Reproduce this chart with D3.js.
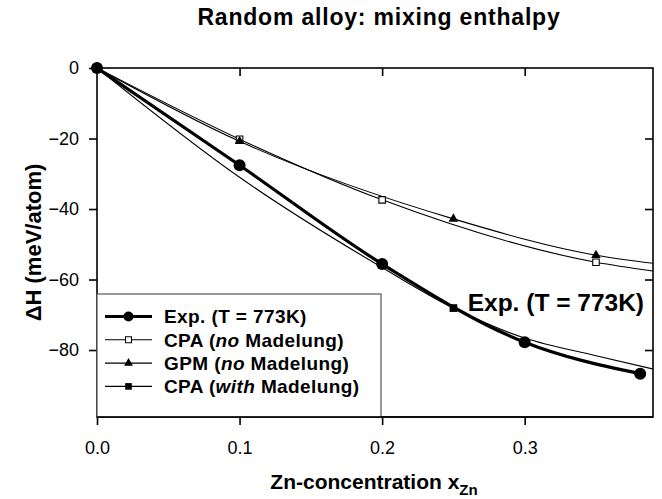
<!DOCTYPE html>
<html>
<head>
<meta charset="utf-8">
<script src="https://cdn.jsdelivr.net/npm/d3@7"></script>
<style>
  body { margin: 0; background: #fff; }
  svg { display: block; font-family: "Liberation Sans", Arial, Helvetica, sans-serif; }
  .axis path, .axis line { stroke: #000; stroke-width: 1.6; }
  .axis text { font-size: 18px; fill: #000; }
</style>
</head>
<body>
<svg id="chart" width="662" height="499"></svg>
<script>
// Zn concentration -> mixing enthalpy (meV/atom)
const expX = [0, 0.1, 0.2, 0.3, 0.381];
const expY = [0, -27.6, -55.6, -77.8, -86.7];

// CPA, no Madelung (open squares); curve runs on to the frame
const cpaNoX = [0, 0.1, 0.2, 0.35];
const cpaNoY = [0, -20.2, -37.4, -55.1];
const cpaNoCurveX = [0, 0.1, 0.2, 0.35, 0.39];
const cpaNoCurveY = [0, -20.2, -37.4, -55.1, -57.6];

// GPM, no Madelung (filled triangles)
const gpmX = [0, 0.1, 0.25, 0.35];
const gpmY = [0, -20.8, -42.8, -53.1];
const gpmCurveX = [0, 0.1, 0.25, 0.35, 0.39];
const gpmCurveY = [0, -20.8, -42.8, -53.1, -55.4];

// CPA with Madelung (filled square) and its curve
const cpaWithX = [0.25];
const cpaWithY = [-68.1];
const cpaWithCurveX = [0, 0.1, 0.2, 0.25, 0.3, 0.35, 0.39];
const cpaWithCurveY = [0, -31, -56.6, -68.1, -76.6, -81.6, -85.4];

const xTicks = [0, 0.1, 0.2, 0.3];
const yTicks = [0, -20, -40, -60, -80];
const legendLabels = [
  ['Exp. (T = 773K)'],
  ['CPA (', 'no', ' Madelung)'],
  ['GPM (', 'no', ' Madelung)'],
  ['CPA (', 'with', ' Madelung)']
];

const svg = d3.select('#chart');
const margin = {left: 97, right: 9, top: 68, bottom: 82};
const W = 662, H = 499;
const x = d3.scaleLinear().domain([0, 0.39]).range([margin.left, W - margin.right]);
const y = d3.scaleLinear().domain([-99, 0]).range([H - margin.bottom, margin.top]);

const zip = (xs, ys) => xs.map((v, i) => [v, ys[i]]);

svg.append('defs').append('clipPath').attr('id', 'plot')
  .append('rect')
  .attr('x', x.range()[0]).attr('y', y.range()[1])
  .attr('width', x.range()[1] - x.range()[0])
  .attr('height', y.range()[0] - y.range()[1]);

// title
svg.append('text')
  .attr('x', 379).attr('y', 25)
  .attr('text-anchor', 'middle')
  .style('font-size', '23px').style('font-weight', 'bold').style('letter-spacing', '0.8px')
  .text('Random alloy: mixing enthalpy');

// axes
svg.append('g').attr('class', 'axis')
  .attr('transform', `translate(0,${y.range()[0]})`)
  .call(d3.axisBottom(x).tickValues(xTicks).tickFormat(d3.format('.1f')).tickSize(8).tickPadding(16))
  .call(g => g.select('.domain').remove());
svg.append('g').attr('class', 'axis')
  .attr('transform', `translate(${x.range()[0]},0)`)
  .call(d3.axisLeft(y).tickValues(yTicks).tickFormat(d3.format('d')).tickSize(8).tickPadding(10))
  .call(g => g.select('.domain').remove());
// inner ticks on top and right
svg.append('g').attr('class', 'axis')
  .attr('transform', `translate(0,${y.range()[1]})`)
  .call(d3.axisBottom(x).tickValues(xTicks.slice(1)).tickFormat('').tickSize(8))
  .call(g => g.select('.domain').remove());
svg.append('g').attr('class', 'axis')
  .attr('transform', `translate(${x.range()[1]},0)`)
  .call(d3.axisRight(y).tickValues(yTicks.slice(1)).tickFormat('').tickSize(-8))
  .call(g => g.select('.domain').remove());

// frame
svg.append('rect')
  .attr('x', x.range()[0]).attr('y', y.range()[1])
  .attr('width', x.range()[1] - x.range()[0])
  .attr('height', y.range()[0] - y.range()[1])
  .attr('fill', 'none').attr('stroke', '#000').attr('stroke-width', 1.6);

// axis titles
const xl = svg.append('text')
  .attr('x', 374).attr('y', 489)
  .attr('text-anchor', 'middle')
  .style('font-size', '21px').style('font-weight', 'bold');
xl.append('tspan').text('Zn-concentration x');
xl.append('tspan').attr('dy', 6).style('font-size', '15px').text('Zn');

svg.append('text')
  .attr('transform', `translate(41,${(y.range()[0] + y.range()[1]) / 2}) rotate(-90)`)
  .attr('text-anchor', 'middle')
  .style('font-size', '22px').style('font-weight', 'bold')
  .text('ΔH (meV/atom)');

// curves
const line = d3.line().x(d => x(d[0])).y(d => y(d[1])).curve(d3.curveMonotoneX);
const plot = svg.append('g').attr('clip-path', 'url(#plot)');
plot.append('path').datum(zip(cpaNoCurveX, cpaNoCurveY))
  .attr('d', line).attr('fill', 'none').attr('stroke', '#000').attr('stroke-width', 1.1);
plot.append('path').datum(zip(gpmCurveX, gpmCurveY))
  .attr('d', line).attr('fill', 'none').attr('stroke', '#000').attr('stroke-width', 1.1);
plot.append('path').datum(zip(cpaWithCurveX, cpaWithCurveY))
  .attr('d', line).attr('fill', 'none').attr('stroke', '#000').attr('stroke-width', 1.1);
plot.append('path').datum(zip(expX, expY))
  .attr('d', line).attr('fill', 'none').attr('stroke', '#000').attr('stroke-width', 3.2);

// markers
const sym = (type, size) => d3.symbol().type(type).size(size)();
svg.append('g').selectAll('path').data(zip(cpaNoX, cpaNoY)).join('path')
  .attr('transform', d => `translate(${x(d[0])},${y(d[1])})`)
  .attr('d', sym(d3.symbolSquare, 42)).attr('fill', '#fff').attr('stroke', '#000').attr('stroke-width', 1.1);
svg.append('g').selectAll('path').data(zip(gpmX, gpmY)).join('path')
  .attr('transform', d => `translate(${x(d[0])},${y(d[1])})`)
  .attr('d', sym(d3.symbolTriangle, 40)).attr('fill', '#000');
svg.append('g').selectAll('path').data(zip(cpaWithX, cpaWithY)).join('path')
  .attr('transform', d => `translate(${x(d[0])},${y(d[1])})`)
  .attr('d', sym(d3.symbolSquare, 60)).attr('fill', '#000');
svg.append('g').selectAll('circle').data(zip(expX, expY)).join('circle')
  .attr('cx', d => x(d[0])).attr('cy', d => y(d[1])).attr('r', 6).attr('fill', '#000');

// in-plot label
svg.append('text')
  .attr('x', x.range()[1] - 9).attr('y', 311)
  .attr('text-anchor', 'end')
  .style('font-size', '24.5px').style('font-weight', 'bold')
  .text('Exp. (T = 773K)');

// legend
const lg = svg.append('g');
lg.append('rect')
  .attr('x', x.range()[0]).attr('y', 294)
  .attr('width', 284).attr('height', y.range()[0] - 294)
  .attr('fill', '#fff').attr('stroke', '#555').attr('stroke-width', 1.2);
const rowY = i => 316.5 + i * 23.3;
const markers = [
  g => g.append('circle').attr('r', 5).attr('fill', '#000'),
  g => g.append('path').attr('d', sym(d3.symbolSquare, 36)).attr('fill', '#fff').attr('stroke', '#000').attr('stroke-width', 1.1),
  g => g.append('path').attr('d', sym(d3.symbolTriangle, 34)).attr('fill', '#000'),
  g => g.append('path').attr('d', sym(d3.symbolSquare, 44)).attr('fill', '#000')
];
legendLabels.forEach((parts, i) => {
  const row = lg.append('g').attr('transform', `translate(0,${rowY(i)})`);
  row.append('line').attr('x1', 105).attr('x2', 152)
    .attr('stroke', '#000').attr('stroke-width', i === 0 ? 3.2 : 1.1);
  markers[i](row.append('g').attr('transform', 'translate(128.5,0)'));
  const t = row.append('text').attr('x', 164).attr('dy', '0.36em')
    .style('font-size', '19px').style('font-weight', 'bold').style('letter-spacing', '0.4px');
  parts.forEach((p, j) => {
    t.append('tspan').style('font-style', j === 1 ? 'italic' : 'normal').text(p);
  });
});
// redraw bottom frame edge over legend box
svg.append('line')
  .attr('x1', x.range()[0]).attr('x2', x.range()[1])
  .attr('y1', y.range()[0]).attr('y2', y.range()[0])
  .attr('stroke', '#000').attr('stroke-width', 1.6);
</script>
</body>
</html>
